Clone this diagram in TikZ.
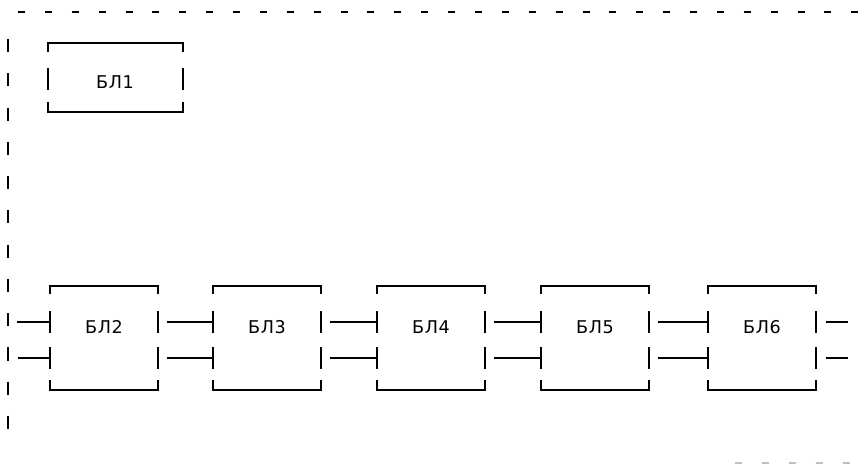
\documentclass[tikz,border=0pt]{standalone}
\usepackage{fontspec}
\newfontfamily\blfont[LetterSpace=4]{DejaVu Sans}
\usetikzlibrary{calc}

\begin{document}
\begin{tikzpicture}[x=.02cm, y=.02cm,
    blk/.style={font=\blfont\fontsize{10}{12}\selectfont, inner sep=0pt},
    frame/.style={line width=.8pt},
    wire/.style={line width=.6pt},
    border/.style={line width=1.2pt, dash pattern=on 4pt off 11.3pt}]
  \useasboundingbox (0,0) rectangle (866,464);
  % outer border
  \draw[border] (18,452) coordinate (tl) -- (866,452) coordinate (tr);
  \draw[border, line width=.9pt, dash pattern=on 7.5pt off 12pt] (8,425) coordinate (lt) -- (8,32) coordinate (lb);
  \draw[border, gray!50] (735,1) -- (866,1);

  % top block
  \node[blk] (b1) at (115,382) {БЛ1};
  \draw[frame] ([shift={(-67,30)}]b1.center) -- ++(0,9) -- ++(135,0) -- ++(0,-9);
  \draw[frame] ([shift={(-67,-20)}]b1.center) -- ++(0,-10) -- ++(135,0) -- ++(0,10);
  \foreach \s in {-67,68}
    \draw[frame] ([shift={(\s,-8)}]b1.center) -- ++(0,22);

  % chain of blocks
  \foreach \i/\x in {2/104,3/267,4/431,5/595,6/762}
    \node[blk] (b\i) at (\x,137) {БЛ\i};
  \foreach \i in {2,...,6}{
    \draw[frame] ([shift={(-54,33)}]b\i.center) -- ++(0,8) -- ++(108,0) -- ++(0,-8);
    \draw[frame] ([shift={(-54,-53)}]b\i.center) -- ++(0,-10) -- ++(108,0) -- ++(0,10);
    \foreach \s in {-54,54}
      \foreach \r in {5,-31}
        \draw[frame] ([shift={(\s,\r-11)}]b\i.center) -- ++(0,22);
  }

  % links
  \coordinate (in1) at (17,142); \coordinate (in2) at (18,106);
  \coordinate (out1) at (848,142); \coordinate (out2) at (848,106);
  \draw[wire] (in1) -- ([shift={(-54,5)}]b2.center);
  \draw[wire] (in2) -- ([shift={(-54,-31)}]b2.center);
  \foreach \a/\b in {2/3,3/4,4/5,5/6}
    \foreach \r in {5,-31}
      \draw[wire] ([shift={(63,\r)}]b\a.center) -- ([shift={(-54,\r)}]b\b.center);
  \draw[wire] ([shift={(64,5)}]b6.center) -- (out1);
  \draw[wire] ([shift={(64,-31)}]b6.center) -- (out2);
\end{tikzpicture}
\end{document}
